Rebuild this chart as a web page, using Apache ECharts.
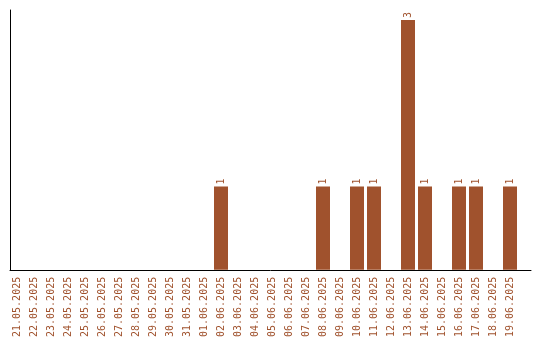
<!DOCTYPE html>
<html>
<head>
<meta charset="utf-8">
<script src="https://cdn.jsdelivr.net/npm/echarts@6/dist/echarts.min.js"></script>
<style>html,body{margin:0;padding:0;background:#fff}#c{width:540px;height:340px}</style>
</head>
<body>
<div id="c"></div>
<script>
const categories = ["21.05.2025","22.05.2025","23.05.2025","24.05.2025","25.05.2025","26.05.2025","27.05.2025","28.05.2025","29.05.2025","30.05.2025","31.05.2025","01.06.2025","02.06.2025","03.06.2025","04.06.2025","05.06.2025","06.06.2025","07.06.2025","08.06.2025","09.06.2025","10.06.2025","11.06.2025","12.06.2025","13.06.2025","14.06.2025","15.06.2025","16.06.2025","17.06.2025","18.06.2025","19.06.2025"];
const counts = [0,0,0,0,0,0,0,0,0,0,0,0,1,0,0,0,0,0,1,0,1,1,0,3,1,0,1,1,0,1];
const yMax = 3.12;

const color = '#A0522D';
const chart = echarts.init(document.getElementById('c'), null, {renderer: 'canvas'});
chart.setOption({
  animation: false,
  backgroundColor: '#fff',
  grid: [
    {left: 8.5, width: 510, top: 10, height: 260, containLabel: false},
    {left: 10, right: 9, top: 10, height: 260, containLabel: false}
  ],
  xAxis: [
    {
      type: 'category', gridIndex: 0, data: categories,
      axisLine: {show: false}, axisTick: {show: false},
      axisLabel: {rotate: 90, interval: 0, margin: 7, color: color,
        fontFamily: 'DejaVu Sans Mono', fontSize: 10}
    },
    {
      type: 'value', gridIndex: 1, min: 0, max: 1,
      axisLine: {show: true, onZero: false, lineStyle: {color: '#000', width: 1}},
      axisTick: {show: false}, axisLabel: {show: false}, splitLine: {show: false}
    }
  ],
  yAxis: [
    {
      type: 'value', gridIndex: 0, min: 0, max: yMax,
      axisLine: {show: false}, axisTick: {show: false},
      axisLabel: {show: false}, splitLine: {show: false}
    },
    {
      type: 'value', gridIndex: 1, min: 0, max: 1,
      axisLine: {show: true, onZero: false, lineStyle: {color: '#000', width: 1}},
      axisTick: {show: false}, axisLabel: {show: false}, splitLine: {show: false}
    }
  ],
  series: [{
    type: 'bar', xAxisIndex: 0, yAxisIndex: 0,
    data: counts, barWidth: 14,
    itemStyle: {color: color},
    label: {
      show: true, position: 'top', rotate: 90, distance: 2,
      align: 'left', verticalAlign: 'middle',
      color: color, fontFamily: 'DejaVu Sans Mono', fontSize: 10,
      formatter: p => p.value ? String(p.value) : ''
    }
  }]
});
</script>
</body>
</html>
